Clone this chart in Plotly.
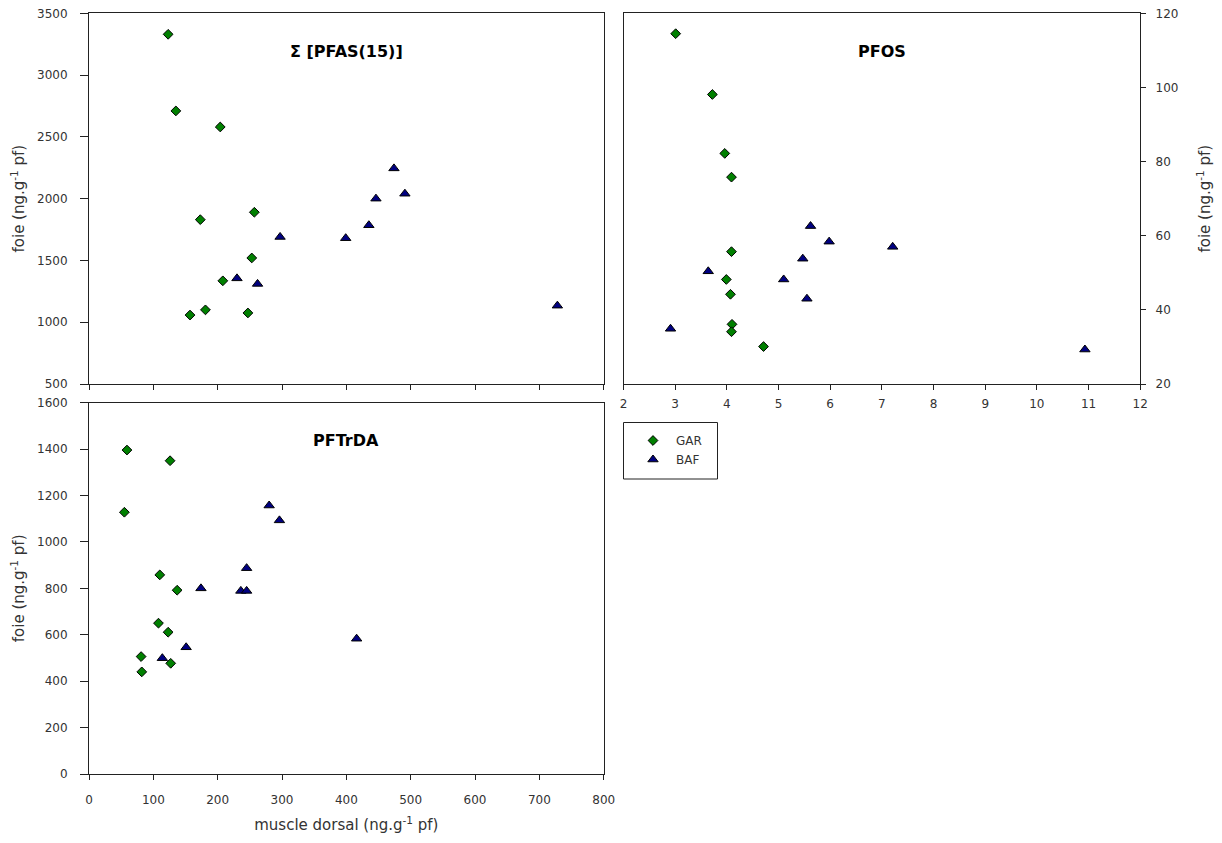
import plotly.graph_objects as go

# ---- data ----
# Panel 1: Σ[PFAS(15)]  (x: muscle dorsal, y: foie)
pfas_gar_x = [123, 135, 204, 173, 257, 253, 208, 181, 157, 247]
pfas_gar_y = [3330, 2710, 2580, 1830, 1890, 1520, 1335, 1100, 1058, 1075]
pfas_baf_x = [230, 262, 297, 399, 435, 446, 474, 491, 728]
pfas_baf_y = [1355, 1310, 1690, 1680, 1785, 2000, 2245, 2040, 1134]

# Panel 2: PFOS
pfos_gar_x = [3.01, 3.72, 3.96, 4.09, 4.09, 3.99, 4.07, 4.10, 4.09, 4.71]
pfos_gar_y = [114.5, 98.1, 82.2, 75.8, 55.7, 48.2, 44.2, 36.1, 34.1, 30.1]
pfos_baf_x = [5.62, 5.98, 5.47, 3.64, 5.10, 5.55, 2.91, 7.21, 10.93]
pfos_baf_y = [62.6, 58.4, 53.8, 50.4, 48.2, 43.0, 34.9, 57.0, 29.3]

# Panel 3: PFTrDA
pftrda_gar_x = [59, 126, 55, 110, 137, 108, 123, 81, 127, 82]
pftrda_gar_y = [1396, 1350, 1128, 858, 792, 650, 611, 506, 477, 440]
pftrda_baf_x = [280, 296, 245, 174, 236, 245, 151, 114, 416]
pftrda_baf_y = [1157, 1093, 887, 800, 789, 789, 546, 499, 583]

series_names = ["GAR", "BAF"]
panel_titles = ["\u03a3 [PFAS(15)]", "PFOS", "PFTrDA"]
y_title = "foie (ng.g<sup>-1</sup> pf)"
x_title = "muscle dorsal (ng.g<sup>-1</sup> pf)"

# page has an 8px body margin: figure sized to fit the 1222x843 window
OFF = 8
W, H = 1222 - 2 * OFF, 843 - 2 * OFF
FONT = "DejaVu Sans, Liberation Sans, sans-serif"
GREEN = "#008000"
NAVY = "#000080"

def fx(p):
    return (p - OFF) / W

def fy(p):
    return 1 - (p - OFF) / H

def px_x(a, b):
    return [fx(a), fx(b)]

def px_y(top, bottom):
    return [fy(bottom), fy(top)]

fig = go.Figure()

def add_pair(gx, gy, bx, by, xa, ya, show):
    fig.add_trace(go.Scatter(x=gx, y=gy, mode="markers", name=series_names[0],
                             xaxis=xa, yaxis=ya, showlegend=show, legendgroup="g",
                             marker=dict(symbol="diamond", size=7.5, color=GREEN,
                                         line=dict(color="black", width=1))))
    fig.add_trace(go.Scatter(x=bx, y=by, mode="markers", name=series_names[1],
                             xaxis=xa, yaxis=ya, showlegend=show, legendgroup="b",
                             marker=dict(symbol="triangle-up", size=9, color=NAVY,
                                         line=dict(color="black", width=1))))

add_pair(pfas_gar_x, pfas_gar_y, pfas_baf_x, pfas_baf_y, "x", "y", True)
add_pair(pfos_gar_x, pfos_gar_y, pfos_baf_x, pfos_baf_y, "x2", "y2", False)
add_pair(pftrda_gar_x, pftrda_gar_y, pftrda_baf_x, pftrda_baf_y, "x3", "y3", False)

axis_common = dict(showline=True, linecolor="#222", linewidth=1, mirror=True,
                   ticks="outside", tickcolor="#222", showgrid=False,
                   zeroline=False, automargin=False, ticklabeloverflow="allow",
                   tickfont=dict(family=FONT, size=12, color="#333"))
title_font = dict(family=FONT, size=15, color="#333")

fig.update_layout(
    width=W, height=H, margin=dict(l=0, r=0, t=0, b=0, autoexpand=False),
    plot_bgcolor="white", paper_bgcolor="white",
    font=dict(family=FONT, color="#333"),
    xaxis=dict(domain=px_x(89, 603.7), range=[0, 800], dtick=100, anchor="y",
               showticklabels=False, ticklen=5, **axis_common),
    yaxis=dict(domain=px_y(13.3, 384), range=[500, 3500], dtick=500, anchor="x",
               ticklen=8, ticklabelstandoff=10,
               title=dict(text=y_title, font=title_font, standoff=8),
               **axis_common),
    xaxis2=dict(domain=px_x(623.5, 1140.2), range=[2, 12], dtick=1, anchor="y2",
                ticklen=5, ticklabelstandoff=4, **axis_common),
    yaxis2=dict(domain=px_y(13.3, 384), range=[20, 120], dtick=20, anchor="x2", side="right",
                ticklen=5, ticklabelstandoff=7,
                title=dict(text=y_title, font=title_font, standoff=24),
                **axis_common),
    xaxis3=dict(domain=px_x(89, 603.7), range=[0, 800], dtick=100, anchor="y3",
                ticklen=5, ticklabelstandoff=10,
                title=dict(text=x_title, font=title_font, standoff=13),
                **axis_common),
    yaxis3=dict(domain=px_y(402.7, 774), range=[0, 1600], dtick=200, anchor="x3",
                ticklen=8, ticklabelstandoff=10,
                title=dict(text=y_title, font=title_font, standoff=8),
                **axis_common),
    legend=dict(x=fx(630), y=fy(426), xanchor="left", yanchor="top",
                borderwidth=0, bgcolor="rgba(0,0,0,0)",
                font=dict(family=FONT, size=12, color="#333"),
                tracegroupgap=0, itemwidth=36),
    showlegend=True,
)

# legend frame
fig.add_shape(type="rect", xref="paper", yref="paper",
              x0=fx(623.5), x1=fx(717.5), y0=fy(479), y1=fy(422.5),
              line=dict(color="#222", width=1), fillcolor="rgba(0,0,0,0)", layer="below")

titles_pos = [((89 + 603.7) / 2, 52), ((623.5 + 1140.2) / 2, 52), ((89 + 603.7) / 2, 440)]
for t, (cx, cy) in zip(panel_titles, titles_pos):
    fig.add_annotation(text="<b>" + t + "</b>", x=fx(cx), y=fy(cy), xref="paper", yref="paper",
                       showarrow=False, font=dict(family=FONT, size=16, color="black"),
                       xanchor="center", yanchor="middle")

fig.write_html("out.html")
